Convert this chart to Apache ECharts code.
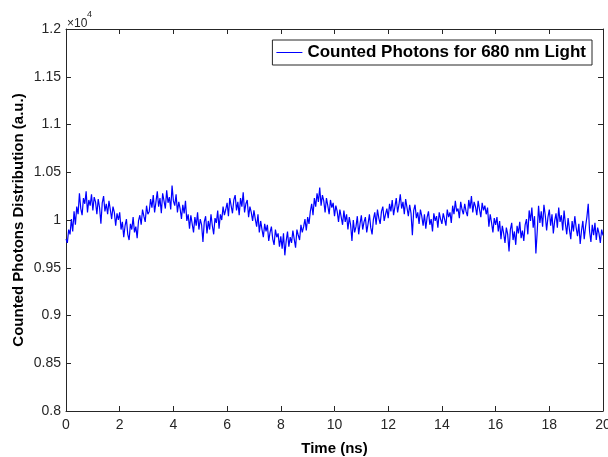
<!DOCTYPE html>
<html>
<head>
<meta charset="utf-8">
<script src="https://cdn.jsdelivr.net/npm/echarts@6/dist/echarts.min.js"></script>
<style>
html,body{margin:0;padding:0;background:#fff;}
#chart{width:608px;height:457px;}
</style>
</head>
<body>
<div id="chart"></div>
<script>
const seriesName = 'Counted Photons for 680 nm Light';
const xTitle = 'Time (ns)';
const yTitle = 'Counted Photons Distribution (a.u.)';
const timeStart = 0;
const timeStep = 0.05;
const xTicks = [0, 2, 4, 6, 8, 10, 12, 14, 16, 18, 20];
const yTickLabels = ['0.8', '0.85', '0.9', '0.95', '1', '1.05', '1.1', '1.15', '1.2'];
const photonCounts = [
  9800, 9760, 9900, 9850, 10010, 9880, 10090, 9950, 10140, 10060, 10280, 10120, 10050, 10230, 10170, 10300, 10080, 10210, 10150, 10270,
  10100, 10240, 10190, 10060, 10220, 10130, 9960, 10180, 10250, 10090, 10170, 10060, 10200, 10110, 10010, 10140, 10080, 9940, 10070, 10000,
  10080, 9900, 9980, 9820, 9940, 10010, 9850, 9790, 9960, 9900, 10030, 9870, 9930, 9810, 9990, 10050, 9950, 10110, 10040, 9980,
  10150, 10060, 10090, 10220, 10130, 10260, 10080, 10190, 10300, 10140, 10230, 10070, 10280, 10200, 10120, 10310, 10180, 10240, 10110, 10360,
  10200, 10150, 10270, 10080, 10190, 10120, 10010, 10160, 10070, 10200, 9990, 10060, 9910, 10050, 9960, 9870, 10030, 9940, 10080, 9900,
  10010, 9950, 9770, 9980, 10040, 9860, 9990, 9900, 10060, 9940, 9850, 10020, 9970, 10100, 9910, 10060, 10000, 10140, 10050, 10110,
  10180, 10040, 10230, 10150, 10070, 10210, 10260, 10100, 10190, 10050, 10230, 10140, 10290, 10080, 10170, 10210, 10030, 10140, 10080, 9990,
  10100, 10010, 9930, 10060, 9870, 9990, 9900, 9820, 9960, 9880, 9950, 9780, 9870, 9930, 9800, 9740, 9900, 9820, 9860, 9720,
  9830, 9700, 9860, 9630, 9780, 9880, 9720, 9820, 9760, 9890, 9800, 9710, 9900, 9840, 9790, 9950, 9870, 9930, 10010, 9890,
  10030, 9960, 10090, 10170, 10050, 10230, 10140, 10280, 10190, 10340, 10150, 10260, 10200, 10080, 10230, 10150, 10060, 10210, 10130, 10180,
  10040, 10150, 10090, 9980, 10110, 10030, 9950, 10100, 9980, 10060, 9900, 10030, 9950, 9780, 10000, 9870, 9930, 10040, 9850, 9960,
  10050, 9900, 9980, 10030, 9870, 9960, 10060, 9920, 9850, 10010, 10080, 9950, 10110, 10020, 9960, 10090, 10140, 9990, 10060, 10120,
  10020, 10170, 10090, 10210, 10050, 10140, 10230, 10080, 10160, 10270, 10120, 10190, 10060, 10220, 10130, 10040, 10160, 10070, 9840, 10100,
  10160, 10020, 10080, 9960, 10110, 10040, 9940, 10060, 9910, 10030, 10090, 9950, 10010, 9880, 10070, 9990, 10040, 9920, 10080, 10010,
  9960, 10070, 10010, 9940, 10110, 10030, 10080, 9970, 10150, 10060, 10200, 10090, 10120, 10020, 10190, 10110, 10060, 10170, 10090, 10040,
  10210, 10120, 10250, 10080, 10190, 10140, 10050, 10200, 10110, 10030, 10180, 10100, 10150, 10060, 10130, 9930, 10060, 9970, 9870, 10020,
  9950, 10030, 9880, 9990, 9800, 9940, 9860, 9760, 9920, 9850, 9670, 9900, 9970, 9790, 9880, 9740, 9940, 9860, 9980, 9810,
  9890, 9780, 9950, 10010, 9850, 10100, 9990, 10130, 9920, 10040, 9650, 9880, 10150, 9970, 10090, 9930, 10160, 10050, 9890, 10030,
  10110, 9940, 10060, 9860, 9990, 10070, 9920, 10130, 9980, 10050, 9890, 10100, 9960, 9850, 10020, 9900, 9800, 9990, 9880, 10040,
  9920, 9830, 9960, 9750, 9890, 9990, 9800, 9930, 10030, 10170, 9880, 9770, 9950, 9840, 9970, 9790, 9920, 9860, 9760, 9900,
  9840
];
const yScale = 10000;

const data = photonCounts.map((v, i) => [+(timeStart + i * timeStep).toFixed(2), v]);

const axisColor = '#262626';
const font = 'Arial, "Liberation Sans", Helvetica, sans-serif';

const chart = echarts.init(document.getElementById('chart'), null, {renderer: 'canvas'});
const yMin = parseFloat(yTickLabels[0]) * yScale;
const yMax = parseFloat(yTickLabels[yTickLabels.length - 1]) * yScale;
const yInt = Math.round((parseFloat(yTickLabels[1]) - parseFloat(yTickLabels[0])) * yScale);

chart.setOption({
  animation: false,
  backgroundColor: '#ffffff',
  grid: {left: 66, right: 5, top: 29, bottom: 46, containLabel: false, outerBoundsMode: 'none'},
  legend: {
    data: [seriesName],
    right: 16,
    top: 40,
    orient: 'horizontal',
    backgroundColor: '#ffffff',
    borderColor: axisColor,
    borderWidth: 1,
    padding: [4, 6, 4, 4],
    itemWidth: 26,
    itemHeight: 1,
    icon: 'rect',
    textStyle: {fontFamily: font, fontWeight: 'bold', fontSize: 17, color: '#000000'}
  },
  xAxis: [{
    type: 'value', min: xTicks[0], max: xTicks[xTicks.length - 1], interval: xTicks[1] - xTicks[0],
    position: 'bottom',
    name: xTitle, nameLocation: 'middle', nameGap: 30,
    nameTextStyle: {fontFamily: font, fontWeight: 'bold', fontSize: 15, color: '#000000'},
    axisLine: {show: true, onZero: false, lineStyle: {color: axisColor, width: 1}},
    axisTick: {show: true, inside: true, length: 5, lineStyle: {color: axisColor}},
    axisLabel: {fontFamily: font, fontSize: 14, color: axisColor, margin: 7},
    splitLine: {show: false}
  }, {
    type: 'value', min: xTicks[0], max: xTicks[xTicks.length - 1], interval: xTicks[1] - xTicks[0],
    position: 'top',
    axisLine: {show: true, onZero: false, lineStyle: {color: axisColor, width: 1}},
    axisTick: {show: true, inside: true, length: 5, lineStyle: {color: axisColor}},
    axisLabel: {show: false},
    splitLine: {show: false}
  }],
  yAxis: [{
    type: 'value', min: yMin, max: yMax, interval: yInt,
    position: 'left',
    name: yTitle, nameLocation: 'middle', nameGap: 40, nameRotate: 90, nameMoveOverlap: false,
    nameTextStyle: {fontFamily: font, fontWeight: 'bold', fontSize: 15, color: '#000000'},
    axisLine: {show: true, onZero: false, lineStyle: {color: axisColor, width: 1}},
    axisTick: {show: true, inside: true, length: 5, lineStyle: {color: axisColor}},
    axisLabel: {fontFamily: font, fontSize: 14, color: axisColor, margin: 5,
      formatter: (v) => yTickLabels[Math.round((v - yMin) / yInt)]},
    splitLine: {show: false}
  }, {
    type: 'value', min: yMin, max: yMax, interval: yInt,
    position: 'right',
    axisLine: {show: true, onZero: false, lineStyle: {color: axisColor, width: 1}},
    axisTick: {show: true, inside: true, length: 5, lineStyle: {color: axisColor}},
    axisLabel: {show: false},
    splitLine: {show: false}
  }],
  graphic: [
    {type: 'text', left: 67, top: 18, style: {text: '\u00d710', font: '12px Arial, "Liberation Sans", sans-serif', fill: axisColor}},
    {type: 'text', left: 87, top: 10, style: {text: '4', font: '9px Arial, "Liberation Sans", sans-serif', fill: axisColor}}
  ],
  series: [{
    name: seriesName,
    type: 'line',
    xAxisIndex: 0,
    yAxisIndex: 0,
    data: data,
    showSymbol: false,
    symbol: 'none',
    lineStyle: {color: '#0000ff', width: 1.2},
    itemStyle: {color: '#0000ff'}
  }]
});
</script>
</body>
</html>
